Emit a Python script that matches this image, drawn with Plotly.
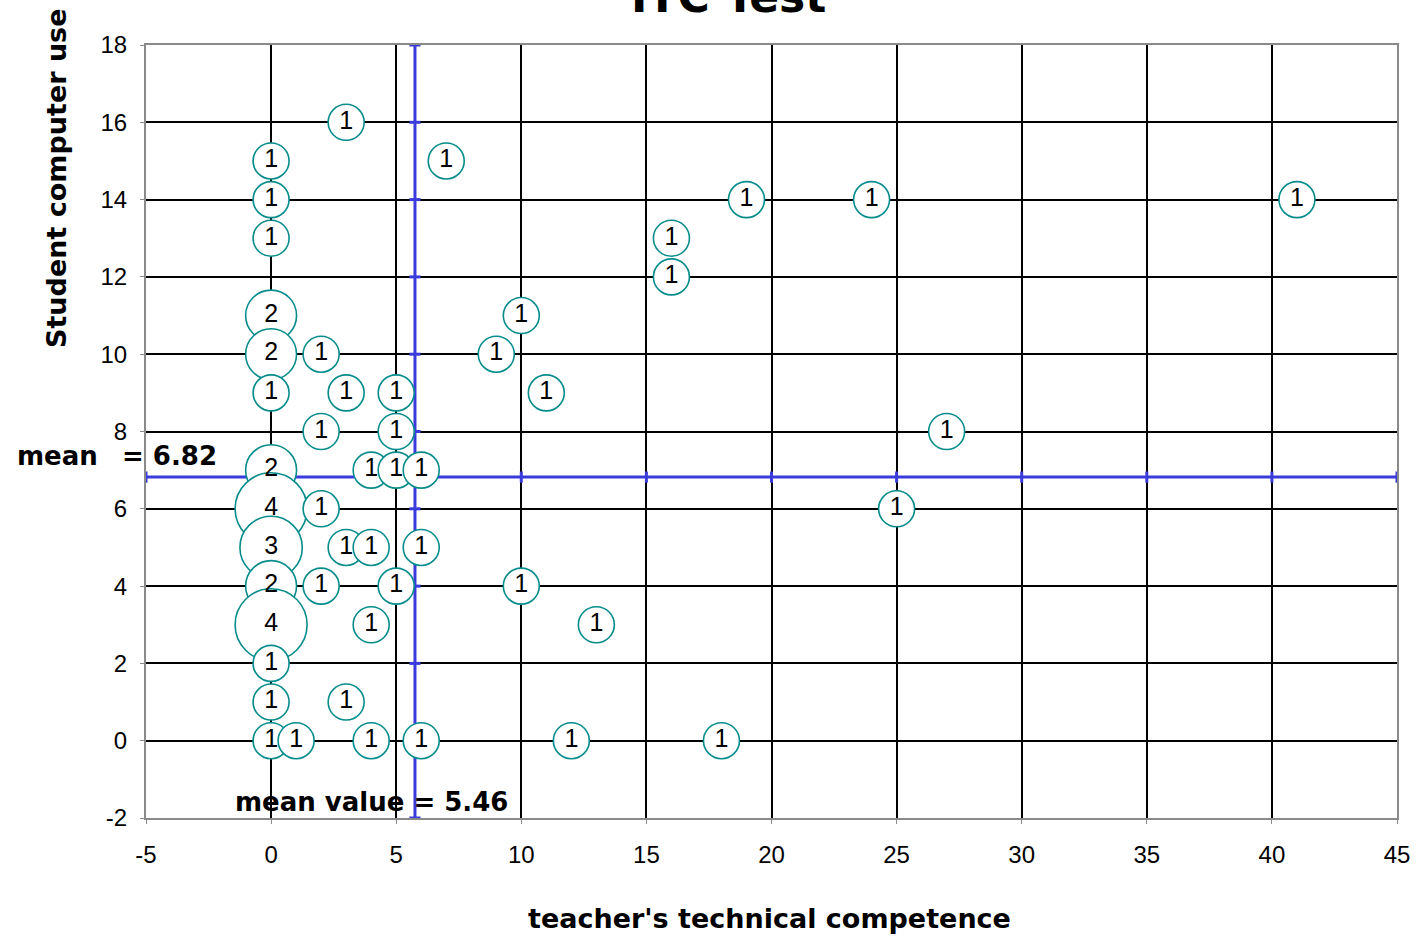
import plotly.graph_objects as go

# bubble data: teacher competence (x), student computer use (y), count of teachers
x_vals = [3, 0, 7, 0, 19, 24, 41, 0, 16, 16, 0, 10, 0, 2, 9,
          0, 3, 5, 11, 2, 5, 27, 0, 4, 5, 6, 0, 2, 25,
          0, 3, 4, 6, 0, 2, 5, 10, 0, 4, 13, 0, 0, 3,
          0, 1, 4, 6, 12, 18]
y_vals = [16, 15, 15, 14, 14, 14, 14, 13, 13, 12, 11, 11, 10, 10, 10,
          9, 9, 9, 9, 8, 8, 8, 7, 7, 7, 7, 6, 6, 6,
          5, 5, 5, 5, 4, 4, 4, 4, 3, 3, 3, 2, 1, 1,
          0, 0, 0, 0, 0, 0]
counts = [1, 1, 1, 1, 1, 1, 1, 1, 1, 1, 2, 1, 2, 1, 1,
          1, 1, 1, 1, 1, 1, 1, 2, 1, 1, 1, 4, 1, 1,
          3, 1, 1, 1, 2, 1, 1, 1, 4, 1, 1, 1, 1, 1,
          1, 1, 1, 1, 1, 1]

mean_y = 6.82
mean_x_line = 5.75
x_ticks = [-5, 0, 5, 10, 15, 20, 25, 30, 35, 40, 45]
y_ticks = [-2, 0, 2, 4, 6, 8, 10, 12, 14, 16, 18]

blue = "#3b3bdc"
teal = "#078c8c"
bold_font = "DejaVu Sans"
tick_font = "Liberation Sans"

fig = go.Figure()

# mean lines (drawn under the bubbles)
fig.add_trace(go.Scatter(x=x_ticks, y=[mean_y] * len(x_ticks), mode="lines+markers",
                         line=dict(color=blue, width=3),
                         marker=dict(symbol="line-ns", size=8, line=dict(color=blue, width=3)),
                         hoverinfo="skip", showlegend=False))
fig.add_trace(go.Scatter(x=[mean_x_line] * len(y_ticks), y=y_ticks, mode="lines+markers",
                         line=dict(color=blue, width=3),
                         marker=dict(symbol="line-ew", size=8, line=dict(color=blue, width=3)),
                         hoverinfo="skip", showlegend=False))

sizes = [36 * c ** 0.5 for c in counts]
fig.add_trace(go.Scatter(x=x_vals, y=y_vals, mode="markers+text",
                         text=[str(c) for c in counts], textposition="middle center",
                         textfont=dict(family=tick_font, size=25, color="black"),
                         marker=dict(size=sizes, color="white", opacity=1,
                                     line=dict(color=teal, width=1.6)),
                         cliponaxis=False, showlegend=False))

axis_common = dict(showgrid=True, gridcolor="black", gridwidth=1.5, zeroline=False,
                   showline=True, linecolor="#8a8a8a", linewidth=2, mirror=True,
                   ticks="outside", ticklen=4, tickcolor="#8a8a8a", ticklabeloverflow="allow",
                   automargin=False,
                   tickfont=dict(family=tick_font, size=24, color="black"))

fig.update_layout(
    width=1416, height=938,
    margin=dict(l=146, r=19, t=45, b=120),
    plot_bgcolor="white", paper_bgcolor="white",
    font=dict(color="black"),
    xaxis=dict(range=[-5, 45], tickvals=x_ticks, ticktext=[str(v) for v in x_ticks],
               ticklabelstandoff=10, **axis_common),
    yaxis=dict(range=[-2, 18], tickvals=y_ticks, ticktext=[str(v) for v in y_ticks],
               ticklabelstandoff=8, **axis_common),
    annotations=[
        dict(text="<b>ITC Test</b>", xref="paper", yref="paper", x=0.4655, y=1.0625,
             xanchor="center", yanchor="middle", showarrow=False,
             font=dict(family=bold_font, size=44, color="black")),
        dict(text="<b>teacher's technical competence</b>", xref="paper", yref="paper",
             x=0.4988, y=-0.1294, xanchor="center", yanchor="middle", showarrow=False,
             font=dict(family=bold_font, size=27, color="black")),
        dict(text="<b>Student computer use</b>", xref="paper", yref="paper",
             x=-0.0711, y=0.828, xanchor="center", yanchor="middle", textangle=-90,
             showarrow=False, font=dict(family=bold_font, size=27, color="black")),
        dict(text="<b>mean</b>", xref="paper", yref="paper",
             x=-0.0711, y=0.4683, xanchor="center", yanchor="middle", showarrow=False,
             font=dict(family=bold_font, size=26, color="black")),
        dict(text="<b>= 6.82</b>", xref="paper", yref="paper",
             x=-0.021, y=0.4683, xanchor="left", yanchor="middle", showarrow=False,
             font=dict(family=bold_font, size=26, color="black")),
        dict(text="<b>mean value = 5.46</b>", xref="x", yref="y",
             x=4.03, y=-1.59, xanchor="center", yanchor="middle", showarrow=False,
             font=dict(family=bold_font, size=26, color="black")),
    ],
)

# the page's default body margin would shift the chart by 8px
fig.write_html("out.html", config={"displayModeBar": False},
               post_script="document.body.style.margin = '0';")
